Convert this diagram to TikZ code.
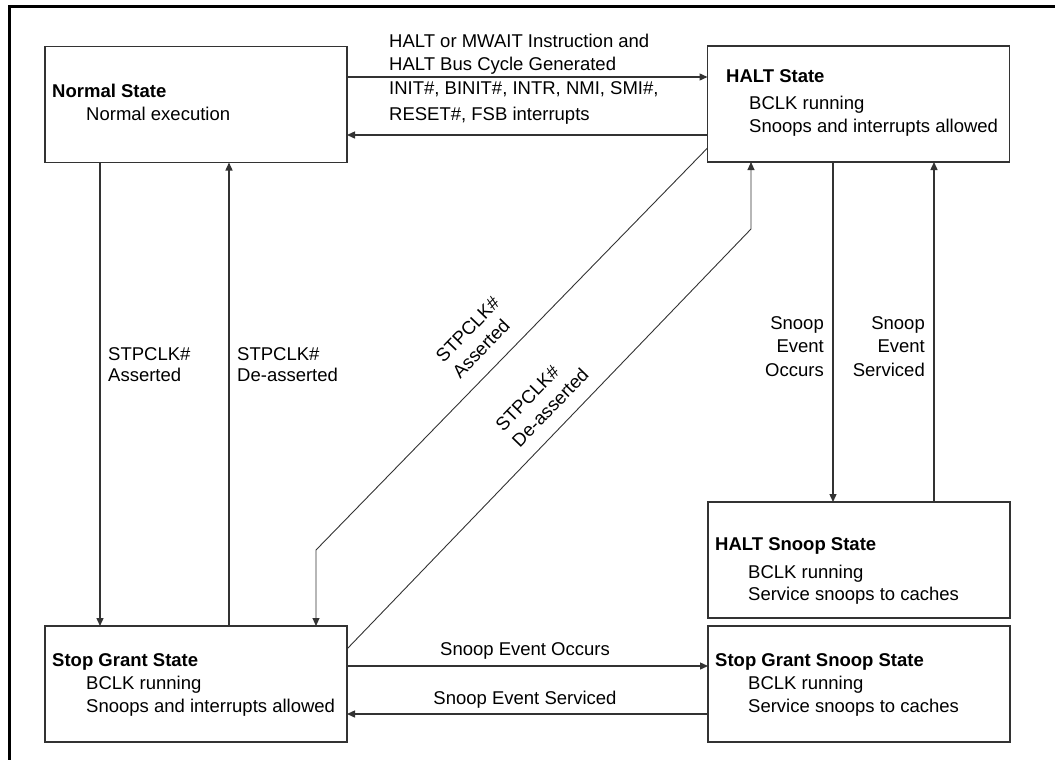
\documentclass[tikz,border=0pt]{standalone}
\usepackage{fontspec}
\setmainfont{Liberation Sans}
\usetikzlibrary{arrows.meta}
\begin{document}
\begin{tikzpicture}[x=1pt,y=-1pt,
  box/.style={draw=black!80, line width=1.4pt, minimum width=302pt, minimum height=116pt, inner sep=0pt, outer sep=0pt},
  conn/.style={draw=black!80, line width=1.4pt},
  arr/.style={conn, -{Triangle[length=8pt,width=7pt]}},
  diag/.style={draw=black!80, line width=0.9pt, -{Triangle[length=8pt,width=7pt]}},
  txt/.style={font=\fontsize{18.5}{23}\selectfont, inner sep=0pt, anchor=base west},
  ttl/.style={txt, font=\fontsize{18.5}{23}\selectfont\bfseries},
  rtxt/.style={txt, anchor=base east},
  ctxt/.style={txt, anchor=base},
  dtxt/.style={font=\fontsize{18.5}{23}\selectfont, inner sep=0pt, align=left, anchor=center, rotate=46},
]
\useasboundingbox (0,0) rectangle (1055,760);
% frame
\coordinate (f1) at (9,760);
\coordinate (f2) at (9,7);
\coordinate (f3) at (1055,7);
\draw[line width=3pt, black] (f1) -- (f2) -- (f3);

% boxes
\node[box] (norm) at (196,104.5) {};
\node[box] (halt) at (858.5,104) {};
\node[box] (sg)   at (196,684) {};
\node[box] (hs)   at (859,560) {};
\node[box] (sgs)  at (859,684) {};

% box texts
\node[ttl] (t1a) at (52,97) {Normal State};
\node[txt] (t1b) at (86,120.5) {Normal execution};
\node[ttl] (t2a) at (726,83) {HALT State};
\node[txt] (t2b) at (749,110) {BCLK running};
\node[txt] (t2c) at (749,132) {Snoops and interrupts allowed};
\node[ttl] (t3a) at (52,666) {Stop Grant State};
\node[txt] (t3b) at (86,689) {BCLK running};
\node[txt] (t3c) at (86,712) {Snoops and interrupts allowed};
\node[ttl] (t4a) at (715,550) {HALT Snoop State};
\node[txt] (t4b) at (748,578) {BCLK running};
\node[txt] (t4c) at (748,600) {Service snoops to caches};
\node[ttl] (t5a) at (715,666) {Stop Grant Snoop State};
\node[txt] (t5b) at (748,689) {BCLK running};
\node[txt] (t5c) at (748,712) {Service snoops to caches};

% connectors
\coordinate (c1) at ([yshift=-30.5pt]norm.north east);
\draw[arr] (c1) -- (c1 -| halt.west);
\coordinate (c2) at ([yshift=-89pt]halt.north west);
\draw[arr] (c2) -- (c2 -| norm.east);
\coordinate (c3) at ([xshift=55pt]norm.south west);
\draw[arr] (c3) -- (c3 |- sg.north);
\coordinate (c4) at ([xshift=184pt]sg.north west);
\draw[arr] (c4) -- (c4 |- norm.south);
\coordinate (c5) at ([yshift=14pt]halt.south west);
\coordinate (b5) at (316,550);
\draw[diag] (c5) -- (b5) -- (b5 |- sg.north);
\coordinate (c6) at ([yshift=-23pt]sg.north east);
\coordinate (b6) at (751,229);
\draw[diag] (c6) -- (b6) -- (b6 |- halt.south);
\coordinate (c7) at ([xshift=-25.5pt]halt.south);
\draw[arr] (c7) -- (c7 |- hs.north);
\coordinate (c8) at ([xshift=75pt]hs.north);
\draw[arr] (c8) -- (c8 |- halt.south);
\coordinate (c9) at ([yshift=-40pt]sg.north east);
\draw[arr] (c9) -- (c9 -| sgs.west);
\coordinate (c10) at ([yshift=-88pt]sgs.north west);
\draw[arr] (c10) -- (c10 -| sg.east);

% connector labels
\node[txt] (l1a) at (389,47.5) {HALT or MWAIT Instruction and};
\node[txt] (l1b) at (389,70.5) {HALT Bus Cycle Generated};
\node[txt] (l2a) at (389,95) {INIT\#, BINIT\#, INTR, NMI, SMI\#,};
\node[txt] (l2b) at (389,121) {RESET\#, FSB interrupts};
\node[txt] (l3a) at (108,360.5) {STPCLK\#};
\node[txt] (l3b) at (108,381) {Asserted};
\node[txt] (l4a) at (237,360.5) {STPCLK\#};
\node[txt] (l4b) at (237,381) {De-asserted};
\node[rtxt] (l5a) at (824,329) {Snoop};
\node[rtxt] (l5b) at (824,352.5) {Event};
\node[rtxt] (l5c) at (824,376) {Occurs};
\node[rtxt] (l6a) at (925,329) {Snoop};
\node[rtxt] (l6b) at (925,352.5) {Event};
\node[rtxt] (l6c) at (925,376) {Serviced};
\node[ctxt] (l7) at (525,655) {Snoop Event Occurs};
\node[ctxt] (l8) at (525,704) {Snoop Event Serviced};
\node[dtxt] (l9) at (476,337.5) {STPCLK\#\\Asserted};
\node[dtxt] (l10) at (542,399.5) {STPCLK\#\\De-asserted};
\end{tikzpicture}
\end{document}
